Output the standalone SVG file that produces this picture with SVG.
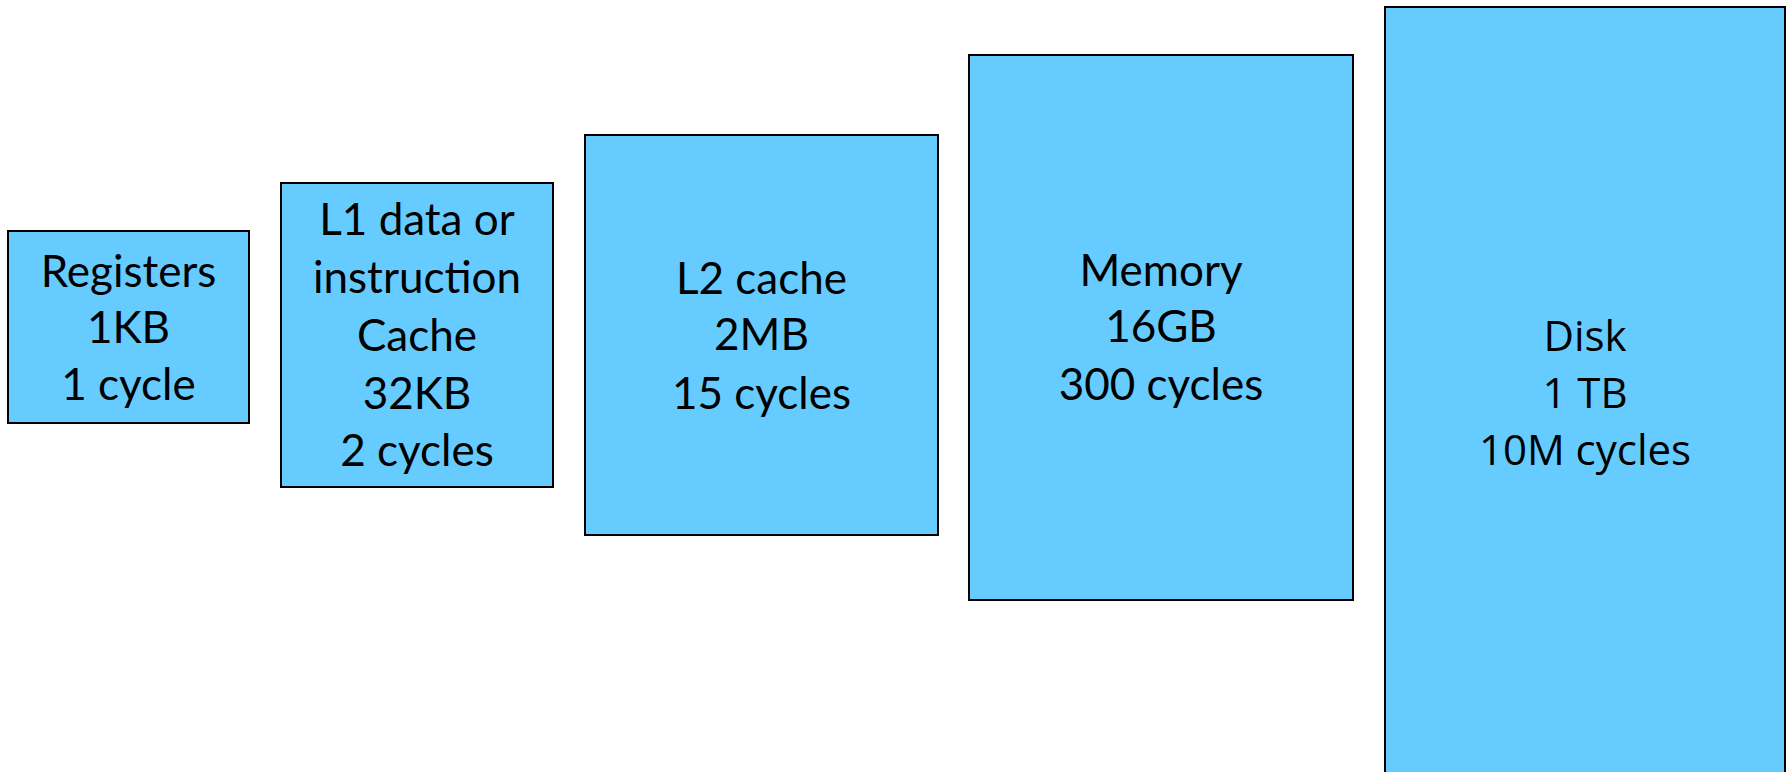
<svg xmlns="http://www.w3.org/2000/svg" width="1792" height="772" viewBox="0 0 1792 772">
<style>
.box{fill:#66CCFF;stroke:#000;stroke-width:2}
.t{font-family:Lato,"Liberation Sans",sans-serif;font-size:44px;fill:#000;text-anchor:middle}
.d{font-family:"Open Sans","DejaVu Sans",sans-serif;font-size:42px;fill:#000;text-anchor:middle}
</style>
<rect width="1792" height="772" fill="#fff"/>
<g id="connectors"></g>
<g id="registers">
<rect class="box" x="8" y="231" width="241" height="192"/>
<text class="t" x="128.5" y="287">Registers</text>
<text class="t" x="128.5" y="343">1KB</text>
<text class="t" x="128.5" y="400">1 cycle</text>
</g>
<g id="l1">
<rect class="box" x="281" y="183" width="272" height="304"/>
<text class="t" x="417" y="235">L1 data or</text>
<text class="t" x="417" y="293">instruction</text>
<text class="t" x="417" y="351">Cache</text>
<text class="t" x="417" y="409">32KB</text>
<text class="t" x="417" y="466">2 cycles</text>
</g>
<g id="l2">
<rect class="box" x="585" y="135" width="353" height="400"/>
<text class="t" x="761.5" y="294">L2 cache</text>
<text class="t" x="761.5" y="350">2MB</text>
<text class="t" x="761.5" y="409">15 cycles</text>
</g>
<g id="memory">
<rect class="box" x="969" y="55" width="384" height="545"/>
<text class="t" x="1161" y="286">Memory</text>
<text class="t" x="1161" y="342">16GB</text>
<text class="t" x="1161" y="400">300 cycles</text>
</g>
<g id="disk">
<rect class="box" x="1385" y="7" width="400" height="780"/>
<text class="d" x="1585" y="351">Disk</text>
<text class="d" x="1585" y="408">1 TB</text>
<text class="d" x="1585" y="465">10M cycles</text>
</g>
</svg>
